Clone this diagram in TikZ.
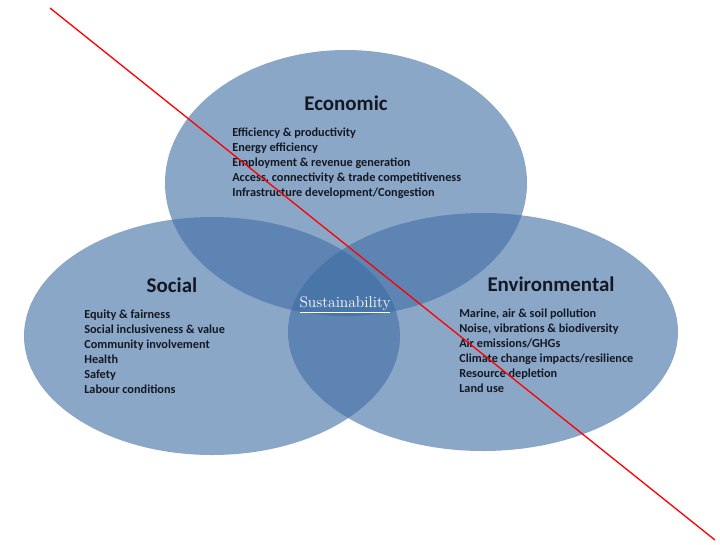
\documentclass[tikz,border=0pt]{standalone}
\usepackage{fontspec}
\setsansfont{Carlito}
\definecolor{pillarblue}{RGB}{62,108,163}
\definecolor{inkdark}{RGB}{20,24,34}
\tikzset{
  pillar/.style={fill=pillarblue, fill opacity=0.6},
  pillartitle/.style={inner sep=0.75pt, anchor=base, text=inkdark, font=\sffamily\bfseries\fontsize{15.7}{18}\selectfont},
  pillaritem/.style={inner sep=0.75pt, anchor=base west, text=inkdark, font=\sffamily\bfseries\fontsize{9.2}{11}\selectfont},
}
\begin{document}
\begin{tikzpicture}[x=0.75pt,y=0.75pt,yscale=-1,xscale=1]
\useasboundingbox (0,0) rectangle (720,544);

%Ellipses
\path[pillar] (346,183) coordinate (eco) ellipse [x radius=181, y radius=133];
\path[pillar] (212,336) coordinate (soc) ellipse [x radius=188, y radius=119];
\path[pillar] (483,332) coordinate (env) ellipse [x radius=195, y radius=119];

% Economic
\node[pillartitle] (ecoTitle) at (346,110) {Economic};
\foreach \txt [count=\i] in {Efficiency \& productivity, Energy efficiency, Employment \& revenue generation, {Access, connectivity \& trade competitiveness}, Infrastructure development/Congestion}
  \node[pillaritem] (eco-\i) at (231,{121+15*\i}) {\txt};

% Social
\node[pillartitle] (socTitle) at (172,292) {Social};
\foreach \txt [count=\i] in {Equity \& fairness, Social inclusiveness \& value, Community involvement, Health, Safety, Labour conditions}
  \node[pillaritem] (soc-\i) at (83,{303+15*\i}) {\txt};

% Environmental
\node[pillartitle] (envTitle) at (551,291) {Environmental};
\foreach \txt [count=\i] in {{Marine, air \& soil pollution}, {Noise, vibrations \& biodiversity}, Air emissions/GHGs, Climate change impacts/resilience, Resource depletion, Land use}
  \node[pillaritem] (env-\i) at (458,{302+15*\i}) {\txt};

% Text Node
\node[inner sep=0.75pt, anchor=base, text=white, font=\fontsize{11.6}{13}\selectfont] (sust) at (345,307) {\underline{Sustainability}};

%Straight Lines
\coordinate (crossA) at (50,8);
\coordinate (crossB) at (715,540);
\draw[red, line width=1pt] (crossA) -- (crossB);
\end{tikzpicture}
\end{document}
